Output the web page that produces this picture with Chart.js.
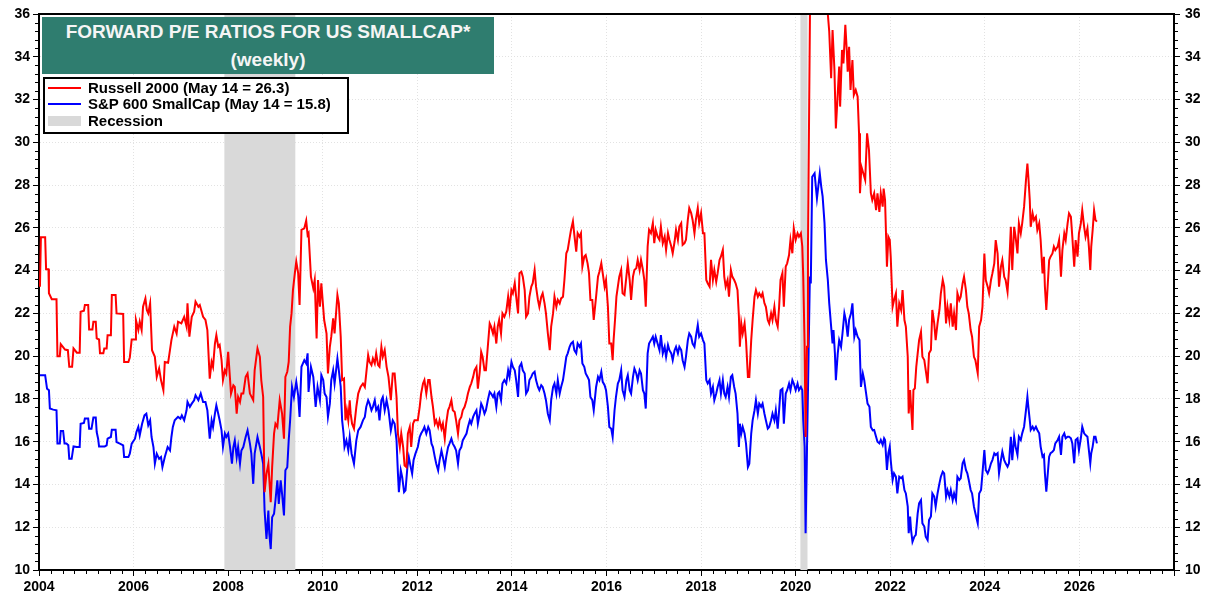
<!DOCTYPE html>
<html><head><meta charset="utf-8">
<script src="https://cdn.jsdelivr.net/npm/chart.js@4.4.1/dist/chart.umd.min.js"></script>
<style>
html,body{margin:0;padding:0;background:#fff;}
#wrap{position:relative;width:1210px;height:596px;overflow:hidden;}
#c{position:absolute;left:0;top:0;}
.title{position:absolute;left:42px;top:17px;width:452px;height:57px;background:#2f7d6f;color:#f5f5f5;font:bold 19px "Liberation Sans",Arial,sans-serif;text-align:center;}
.title div{position:absolute;left:0;right:0;line-height:22px;}
.legend{position:absolute;left:43px;top:77px;width:302px;height:53px;background:#fff;border:2px solid #000;font:bold 15px "Liberation Sans",Arial,sans-serif;color:#000;}
.legend .row{position:absolute;left:0;right:0;height:16px;}
.legend .sw{position:absolute;left:3px;width:33px;}
.legend .tx{position:absolute;left:43px;line-height:16px;white-space:nowrap;}
</style></head>
<body><div id="wrap">
<canvas id="c" width="1210" height="596"></canvas>
<div class="title"><div style="top:4px">FORWARD P/E RATIOS FOR US SMALLCAP*</div><div style="top:32px">(weekly)</div></div>
<div class="legend">
 <div class="row" style="top:1px"><div class="sw" style="top:7px;height:2px;background:#ff0000"></div><div class="tx">Russell 2000 (May 14 = 26.3)</div></div>
 <div class="row" style="top:17px"><div class="sw" style="top:7px;height:2px;background:#0000ff"></div><div class="tx">S&amp;P 600 SmallCap (May 14 = 15.8)</div></div>
 <div class="row" style="top:34px"><div class="sw" style="top:3px;height:10px;background:#d9d9d9"></div><div class="tx">Recession</div></div>
</div>
</div>
<script>
// ---------- Data ----------
const xTickYears = [2004,2006,2008,2010,2012,2014,2016,2018,2020,2022,2024,2026];
const yTickValues = [10,12,14,16,18,20,22,24,26,28,30,32,34,36];
const recessionStarts = [2007.92, 2020.10];
const recessionEnds   = [2009.42, 2020.25];

// Russell 2000 forward P/E
const rutDatesA = [2004.02,2004.04,2004.13,2004.15,2004.20,2004.21,2004.27,2004.37,2004.39,2004.44,
2004.46,2004.55,2004.61,2004.64,2004.70,2004.73,2004.80,2004.86,2004.88,2004.95,
2004.97,2005.04,2005.06,2005.13,2005.15,2005.20,2005.22,2005.27,2005.29,2005.36,
2005.38,2005.43,2005.45,2005.52,2005.54,2005.62,2005.64,2005.78,2005.80,2005.89,
2005.92,2005.96,2006.03,2006.05,2006.10,2006.13,2006.17,2006.20,2006.25,2006.28,
2006.31,2006.35,2006.39,2006.45,2006.49,2006.54,2006.58,2006.63,2006.66,2006.73,
2006.80,2006.86,2006.91,2006.94,2007.01,2007.07,2007.12,2007.14,2007.18,2007.23,
2007.28,2007.31,2007.37,2007.40,2007.47,2007.52,2007.56,2007.61,2007.65,2007.68,
2007.72,2007.75,2007.79,2007.82,2007.86,2007.89,2007.93,2007.96,2008.00,2008.06,
2008.11,2008.14,2008.18,2008.21,2008.25,2008.28,2008.32,2008.37,2008.41,2008.46,
2008.53,2008.56,2008.62,2008.67,2008.70,2008.74,2008.77,2008.81,2008.85,2008.90,
2008.93,2008.97,2009.00,2009.04,2009.09,2009.14,2009.18,2009.21,2009.25,2009.28,
2009.31,2009.34,2009.37,2009.41,2009.44,2009.48,2009.51,2009.55,2009.61,2009.65,
2009.68,2009.70,2009.75,2009.80];
const rutValuesA = [23.25,25.56,25.56,24.06,24.06,22.94,22.66,22.66,20.0,20.0,
20.56,20.31,20.28,19.5,19.5,20.36,20.16,20.16,22.08,22.12,
22.39,22.39,21.25,21.25,21.61,21.61,20.83,20.78,20.13,20.13,
20.36,20.36,20.98,20.98,22.86,22.86,22.0,21.97,19.73,19.73,
19.94,20.78,20.78,21.69,21.22,21.61,21.22,22.31,22.70,22.16,
22.0,22.47,20.28,19.97,19.03,19.42,18.88,18.41,19.73,19.69,
20.75,21.38,21.06,21.61,21.53,21.84,21.38,22.47,20.91,21.84,
22.08,22.55,22.31,22.39,21.84,21.69,21.22,18.95,19.73,19.50,
20.59,20.98,20.44,20.52,19.81,18.88,19.34,19.19,20.20,18.25,
18.64,18.56,17.31,18.09,17.86,18.25,18.25,19.03,19.19,18.25,
17.94,19.34,20.36,19.97,18.88,18.09,13.64,14.5,14.97,13.17,
14.81,16.38,16.84,16.69,17.94,17.31,16.14,19.03,19.27,19.73,
21.38,22.0,23.09,23.88,24.42,23.88,22.39,25.91,25.98,26.34,
25.67,25.75,23.72,23.17];

const rutDatesB = [2009.83,2009.87,2009.90,2009.94,2009.97,2010.03,2010.08,2010.11,2010.15,2010.18,
2010.22,2010.25,2010.31,2010.34,2010.38,2010.41,2010.45,2010.48,2010.51,2010.54,
2010.57,2010.59,2010.62,2010.66,2010.71,2010.75,2010.80,2010.85,2010.89,2010.92,
2010.96,2010.99,2011.03,2011.06,2011.10,2011.13,2011.17,2011.20,2011.24,2011.27,
2011.31,2011.35,2011.39,2011.44,2011.48,2011.52,2011.56,2011.59,2011.63,2011.66,
2011.70,2011.73,2011.77,2011.80,2011.84,2011.87,2011.91,2011.94,2012.01,2012.05,
2012.08,2012.12,2012.15,2012.19,2012.23,2012.26,2012.30,2012.33,2012.37,2012.40,
2012.44,2012.47,2012.51,2012.54,2012.58,2012.61,2012.65,2012.68,2012.72,2012.75,
2012.79,2012.82,2012.86,2012.89,2012.93,2012.96,2013.00,2013.04,2013.07,2013.11,
2013.14,2013.18,2013.21,2013.25,2013.28,2013.32,2013.35,2013.38,2013.42,2013.45,
2013.49,2013.53,2013.56,2013.60,2013.63,2013.67,2013.70,2013.73,2013.77,2013.80,
2013.84,2013.88,2013.92,2013.95,2013.99,2014.02,2014.06,2014.09,2014.13,2014.16,
2014.20,2014.23,2014.27,2014.30,2014.34,2014.37,2014.41,2014.44,2014.48,2014.51,
2014.55,2014.58,2014.62,2014.65,2014.69,2014.72,2014.76,2014.80,2014.83,2014.87,
2014.90,2014.94,2014.97,2015.01,2015.04,2015.08,2015.11,2015.15,2015.18,2015.22,
2015.25,2015.29,2015.32,2015.36,2015.39,2015.43,2015.46,2015.49,2015.53,2015.56,
2015.60,2015.63,2015.66,2015.70,2015.73];
const rutValuesB = [23.56,20.83,23.56,22.31,23.41,21.69,21.06,19.19,20.44,20.91,
21.77,21.06,22.86,22.47,20.91,18.88,18.95,17.0,17.47,17.0,
17.94,17.31,16.84,16.61,17.63,18.25,18.56,18.72,18.56,19.19,
20.05,19.73,19.58,19.89,19.66,20.13,19.58,19.5,20.44,19.97,
20.28,19.5,19.03,17.94,19.19,19.19,18.09,16.38,15.75,16.38,
15.75,14.89,14.81,16.38,16.69,15.75,16.84,17.0,17.0,17.63,
18.25,18.72,18.88,18.25,18.88,18.88,18.09,17.63,16.84,17.0,
16.69,17.0,16.61,16.84,16.14,16.84,17.47,17.63,17.94,17.47,
17.39,17.0,16.38,17.0,17.16,17.47,17.63,17.94,18.25,18.56,
18.72,19.03,19.34,19.5,18.48,19.27,20.2,19.97,19.34,19.34,
20.44,21.53,21.38,21.06,21.38,20.59,21.38,21.69,21.06,22.0,
21.84,22.08,22.78,22.16,23.09,22.94,23.41,22.78,22.0,23.88,
23.95,23.72,23.09,21.84,22.0,22.78,23.25,23.41,24.03,23.25,
22.63,22.31,22.78,22.94,22.47,22.0,21.06,20.28,21.38,22.0,
22.78,22.31,22.63,22.47,22.70,22.78,23.56,24.81,24.97,25.52,
25.91,26.30,25.67,24.89,25.75,25.59,25.75,24.19,24.66,24.73,
24.34,23.88,22.63,22.63,21.69];

const rutDatesC = [2015.78,2015.82,2015.85,2015.89,2015.92,2015.96,2015.99,2016.03,2016.06,2016.10,
2016.13,2016.15,2016.18,2016.21,2016.24,2016.27,2016.31,2016.34,2016.38,2016.42,
2016.45,2016.49,2016.52,2016.56,2016.59,2016.63,2016.66,2016.70,2016.73,2016.77,
2016.80,2016.83,2016.87,2016.90,2016.94,2016.98,2017.01,2017.04,2017.08,2017.12,
2017.15,2017.19,2017.23,2017.26,2017.30,2017.33,2017.37,2017.40,2017.44,2017.47,
2017.51,2017.54,2017.58,2017.61,2017.65,2017.68,2017.72,2017.75,2017.79,2017.82,
2017.86,2017.89,2017.93,2017.96,2018.00,2018.04,2018.07,2018.11,2018.14,2018.18,
2018.21,2018.25,2018.28,2018.32,2018.35,2018.39,2018.42,2018.46,2018.49,2018.52,
2018.56,2018.59,2018.63,2018.66,2018.70,2018.73,2018.77,2018.80,2018.82,2018.85,
2018.88,2018.92,2018.95,2018.99,2019.02,2019.06,2019.09,2019.13,2019.16,2019.20,
2019.23,2019.27,2019.30,2019.34,2019.37,2019.41,2019.44,2019.48,2019.51,2019.55,
2019.58,2019.62,2019.65,2019.68,2019.72,2019.75,2019.79,2019.82,2019.86,2019.89,
2019.93,2019.96,2020.00,2020.04,2020.07,2020.11,2020.14,2020.16,2020.19,2020.21,
2020.24,2020.26,2020.31,2020.40,2020.50,2020.60,2020.66];
const rutValuesC = [22.78,23.72,23.95,24.34,23.88,23.25,23.56,22.31,20.59,20.59,
19.81,20.75,21.69,22.78,23.25,23.72,24.03,22.94,22.86,23.72,
24.34,23.56,22.63,23.72,24.03,24.11,24.5,24.03,24.5,24.03,
23.56,22.31,25.13,25.91,25.75,26.22,25.28,25.91,25.59,25.44,
26.06,25.28,25.59,24.97,25.75,25.44,25.13,24.81,25.36,25.91,
25.44,26.06,26.22,25.2,25.28,25.44,26.38,26.92,26.69,26.38,
25.75,26.38,26.92,26.22,26.69,25.75,25.75,23.56,23.41,23.25,
24.5,23.56,24.03,23.48,23.88,24.5,24.66,24.97,23.72,23.25,
23.56,22.78,24.03,23.72,23.56,23.41,23.09,21.84,20.44,21.53,
21.06,21.53,20.75,19.03,19.03,20.75,21.69,22.78,23.09,22.78,
22.94,22.78,22.94,22.47,22.31,21.69,21.53,22.0,21.69,22.31,
21.69,21.38,22.31,23.56,23.88,22.31,24.19,24.34,24.73,25.44,
24.81,25.98,25.44,25.75,25.59,25.75,25.13,23.72,20.44,16.22,
20.44,25.13,38,42,41,39,37];

const rutDatesD = [2020.68,2020.71,2020.75,2020.78,2020.82,2020.85,2020.89,2020.92,2020.94,2020.98,
2021.01,2021.05,2021.08,2021.10,2021.13,2021.16,2021.20,2021.23,2021.27,2021.31,
2021.34,2021.36,2021.39,2021.43,2021.47,2021.51,2021.55,2021.59,2021.62];
const rutValuesD = [36.0,35.17,33.0,35.25,33.38,30.65,32.29,33.54,31.67,34.32,
33.69,35.49,34.32,33.3,34.47,32.45,33.85,32.21,32.45,32.13,
30.42,27.62,28.86,28.55,28.24,30.42,29.64,27.62,27.30];

const rutDatesE = [2021.66,2021.70,2021.73,2021.77,2021.80,2021.84,2021.86,2021.89,2021.93,2021.96,
2021.99,2022.01,2022.05,2022.08,2022.12,2022.15,2022.19,2022.23,2022.26,2022.30,
2022.33,2022.37,2022.39,2022.42,2022.44,2022.47,2022.49,2022.52,2022.55,2022.58,
2022.61,2022.65,2022.68,2022.72,2022.75,2022.79,2022.82,2022.86,2022.89,2022.93,
2022.96,2023.00,2023.04,2023.07,2023.11,2023.14,2023.18,2023.21,2023.25,2023.28,
2023.32,2023.35,2023.39,2023.42,2023.46,2023.49,2023.53,2023.56,2023.60,2023.63,
2023.66,2023.70,2023.73,2023.77,2023.80,2023.85,2023.88,2023.92,2023.95,2023.99,
2024.02,2024.06,2024.09,2024.13,2024.16,2024.20,2024.23,2024.27,2024.30,2024.34,
2024.37,2024.41,2024.44,2024.48,2024.51,2024.55,2024.58,2024.62,2024.65,2024.69,
2024.72,2024.76,2024.79,2024.83,2024.87,2024.90,2024.92,2024.95,2024.97,2025.01,
2025.04,2025.08,2025.11,2025.15,2025.18,2025.22,2025.25,2025.27,2025.30,2025.32,
2025.36,2025.39,2025.43,2025.46,2025.49,2025.54,2025.57,2025.61,2025.64,2025.68,
2025.71,2025.75,2025.78,2025.82,2025.85,2025.89,2025.92,2025.96,2025.99,2026.03,
2026.06,2026.10,2026.13,2026.17,2026.20,2026.23,2026.25,2026.28,2026.31,2026.34,2026.37];
const rutValuesE = [27.61,26.83,27.61,26.75,27.61,26.99,27.84,27.3,24.18,25.58,
25.43,24.65,22.31,22.62,22.94,21.38,22.47,22.16,23.09,21.69,
21.38,19.97,17.32,18.42,17.64,16.55,18.42,18.49,19.5,20.13,
20.75,21.14,19.97,19.82,19.35,18.73,20.13,20.29,22.16,21.53,
20.75,21.53,22.16,22.94,23.56,23.25,21.53,22.31,21.69,22.47,
21.38,22.0,21.22,22.94,22.62,22.78,23.40,23.71,23.09,22.31,
22.0,21.22,20.91,19.97,19.82,19.2,21.38,21.69,22.31,24.8,
23.56,23.25,22.94,23.56,23.87,24.34,25.43,24.8,23.25,24.18,
24.49,23.71,23.56,23.01,24.03,26.05,24.03,26.05,25.58,24.8,
26.21,25.74,26.21,26.99,28.23,29.01,28.39,27.3,26.05,26.68,
26.36,26.52,25.9,26.21,25.43,23.87,24.65,23.25,22.16,22.94,
24.49,24.65,24.8,25.12,24.96,25.12,25.43,23.71,24.96,25.74,
25.43,26.21,26.68,26.52,25.58,24.18,25.43,24.65,25.74,26.21,
26.83,26.05,25.58,25.97,25.12,24.03,25.12,25.9,26.83,26.36,26.29];

// S&P 600 SmallCap forward P/E
const spDatesA = [2004.02,2004.13,2004.17,2004.21,2004.23,2004.30,2004.37,2004.39,2004.44,2004.46,
2004.51,2004.54,2004.58,2004.62,2004.64,2004.69,2004.73,2004.80,2004.86,2004.88,
2004.95,2004.97,2005.04,2005.06,2005.11,2005.15,2005.20,2005.22,2005.25,2005.27,
2005.39,2005.43,2005.45,2005.52,2005.54,2005.62,2005.64,2005.71,2005.78,2005.80,
2005.89,2005.92,2005.96,2006.03,2006.06,2006.10,2006.13,2006.18,2006.23,2006.27,
2006.31,2006.35,2006.38,2006.42,2006.45,2006.49,2006.54,2006.58,2006.61,2006.66,
2006.72,2006.77,2006.80,2006.83,2006.87,2006.94,2006.99,2007.02,2007.07,2007.12,
2007.14,2007.19,2007.23,2007.28,2007.31,2007.37,2007.42,2007.47,2007.52,2007.56,
2007.61,2007.65,2007.68,2007.72,2007.75,2007.79,2007.82,2007.86,2007.89,2007.93,
2007.96,2008.00,2008.04,2008.08,2008.11,2008.14,2008.18,2008.21,2008.25,2008.28,
2008.32,2008.37,2008.41,2008.46,2008.49,2008.53,2008.56,2008.62,2008.67,2008.70,
2008.74,2008.77,2008.81,2008.85,2008.87,2008.90,2008.93,2008.97,2009.00,2009.04,
2009.07,2009.11,2009.14,2009.18,2009.21,2009.25,2009.28,2009.31,2009.35,2009.39,
2009.44,2009.48,2009.51,2009.55,2009.61,2009.65,2009.68,2009.70,2009.75,2009.80];
const spValuesA = [19.11,19.11,18.48,18.41,17.55,17.5,17.47,15.91,15.91,16.5,
16.5,15.91,15.91,15.83,15.2,15.2,15.78,15.75,15.75,16.84,
16.88,17.08,17.08,16.61,16.61,17.13,17.13,16.45,16.14,15.78,
15.78,15.83,16.14,16.22,16.56,16.56,15.98,15.91,15.83,15.28,
15.28,15.44,15.91,16.14,16.45,16.69,16.30,16.84,17.23,17.31,
16.77,17.0,16.22,15.75,14.97,15.44,15.2,15.28,14.81,15.28,
15.75,15.59,16.22,16.69,17.0,17.16,17.08,17.23,17.0,17.47,
17.86,17.63,17.78,17.94,18.17,17.94,18.25,17.86,17.86,17.47,
16.14,17.0,16.69,17.31,17.70,17.31,17.0,16.53,15.75,16.38,
16.22,16.38,15.75,14.97,15.75,16.06,15.28,15.75,14.97,15.59,
15.75,16.22,16.53,15.91,15.44,14.03,15.44,16.22,15.75,15.44,
14.97,12.78,11.45,12.78,11.69,10.98,12.47,12.63,13.25,14.19,
13.09,14.19,13.56,12.55,14.66,14.81,16.06,17.0,18.56,18.09,
18.80,18.17,17.16,19.5,19.81,19.66,20.13,18.33,19.5,19.03];

const spDatesB = [2009.85,2009.89,2009.94,2009.97,2010.01,2010.04,2010.08,2010.11,2010.15,2010.18,
2010.22,2010.25,2010.31,2010.34,2010.38,2010.41,2010.44,2010.46,2010.50,2010.54,
2010.57,2010.61,2010.66,2010.71,2010.75,2010.80,2010.85,2010.89,2010.92,2010.96,
2010.99,2011.03,2011.06,2011.10,2011.13,2011.17,2011.20,2011.24,2011.27,2011.31,
2011.35,2011.39,2011.44,2011.48,2011.52,2011.56,2011.59,2011.61,2011.65,2011.68,
2011.72,2011.75,2011.79,2011.82,2011.86,2011.89,2011.92,2011.96,2012.01,2012.05,
2012.08,2012.12,2012.15,2012.19,2012.23,2012.26,2012.30,2012.33,2012.37,2012.40,
2012.44,2012.47,2012.51,2012.54,2012.58,2012.61,2012.65,2012.68,2012.72,2012.75,
2012.79,2012.82,2012.86,2012.89,2012.93,2012.96,2013.00,2013.04,2013.07,2013.11,
2013.14,2013.18,2013.21,2013.25,2013.28,2013.32,2013.35,2013.38,2013.42,2013.45,
2013.49,2013.53,2013.56,2013.60,2013.63,2013.67,2013.70,2013.73,2013.77,2013.80,
2013.84,2013.88,2013.92,2013.95,2013.99,2014.02,2014.06,2014.09,2014.13,2014.16,
2014.20,2014.23,2014.27,2014.30,2014.34,2014.37,2014.41,2014.44,2014.48,2014.51,
2014.55,2014.58,2014.62,2014.65,2014.69,2014.72,2014.76,2014.80,2014.83,2014.87,
2014.90,2014.94,2014.97,2015.01,2015.04,2015.08,2015.11,2015.15,2015.18,2015.22,
2015.25,2015.29,2015.32,2015.36,2015.39,2015.43,2015.46,2015.49,2015.53,2015.56,
2015.60,2015.63,2015.66,2015.70,2015.73];
const spValuesB = [17.63,18.56,17.94,19.11,18.88,18.25,18.09,17.16,17.78,18.88,
19.34,18.72,19.89,19.34,18.56,17.0,16.38,15.75,16.06,15.59,
16.22,15.44,14.97,16.06,16.53,16.69,17.0,17.16,17.63,17.94,
17.78,17.47,17.63,17.94,17.47,17.63,17.0,17.94,18.09,17.47,
17.94,17.47,16.53,17.0,16.84,16.06,14.5,13.64,14.66,14.34,
13.64,13.72,14.81,15.28,14.81,14.5,15.13,15.44,15.75,16.22,
16.38,16.53,16.69,16.38,16.69,16.53,15.91,15.75,15.28,14.97,
14.66,15.13,15.59,15.28,14.81,15.28,15.75,15.91,16.14,15.91,
15.75,15.59,14.97,15.59,15.75,16.06,16.22,16.38,16.69,17.0,
16.84,17.16,17.31,17.47,16.84,17.31,17.78,17.63,17.31,17.47,
17.94,18.33,18.25,18.09,18.25,17.63,18.25,18.33,17.94,18.72,
18.88,18.72,19.34,19.03,19.73,19.5,19.34,18.88,18.09,19.5,
19.66,19.34,19.19,18.25,18.41,18.88,19.03,19.19,19.27,18.88,
18.56,18.41,18.64,18.56,18.25,17.94,17.31,17.0,17.94,18.56,
18.72,18.25,18.88,18.25,18.56,18.88,19.34,19.97,20.13,20.44,
20.59,20.67,20.28,20.13,20.59,20.44,20.59,19.66,19.5,19.19,
19.03,18.88,18.09,17.94,17.47];

const spDatesC = [2015.78,2015.82,2015.85,2015.89,2015.92,2015.96,2015.99,2016.03,2016.06,2016.10,
2016.13,2016.17,2016.20,2016.24,2016.27,2016.31,2016.34,2016.38,2016.42,2016.45,
2016.49,2016.52,2016.56,2016.59,2016.63,2016.66,2016.70,2016.73,2016.77,2016.80,
2016.83,2016.87,2016.90,2016.94,2016.98,2017.01,2017.04,2017.08,2017.12,2017.15,
2017.19,2017.23,2017.26,2017.30,2017.33,2017.37,2017.40,2017.44,2017.47,2017.51,
2017.54,2017.58,2017.61,2017.65,2017.68,2017.72,2017.75,2017.79,2017.82,2017.86,
2017.89,2017.93,2017.96,2018.00,2018.04,2018.07,2018.11,2018.14,2018.18,2018.21,
2018.25,2018.28,2018.32,2018.35,2018.39,2018.42,2018.46,2018.49,2018.52,2018.56,
2018.59,2018.63,2018.66,2018.70,2018.73,2018.77,2018.80,2018.82,2018.85,2018.88,
2018.92,2018.95,2018.99,2019.02,2019.06,2019.09,2019.13,2019.16,2019.20,2019.23,
2019.27,2019.30,2019.34,2019.37,2019.41,2019.44,2019.48,2019.51,2019.55,2019.58,
2019.62,2019.65,2019.68,2019.72,2019.75,2019.79,2019.82,2019.86,2019.89,2019.93,
2019.96,2020.00,2020.04,2020.07,2020.11,2020.14,2020.16,2020.19,2020.21,2020.24,
2020.27,2020.30,2020.32,2020.35,2020.40,2020.45,2020.51,2020.54,2020.57,2020.61,
2020.64,2020.68,2020.71,2020.75,2020.78,2020.80,2020.83,2020.85,2020.89,2020.92,
2020.96,2020.99,2021.03,2021.06,2021.10,2021.13,2021.17,2021.20,2021.24,2021.27,
2021.31,2021.35,2021.38,2021.42,2021.45,2021.49,2021.52,2021.56,2021.59,2021.63];
const spValuesC = [18.56,19.03,18.88,19.27,18.80,18.64,18.41,17.63,16.69,16.61,
16.22,17.47,18.09,18.72,18.88,19.34,18.41,18.09,18.88,19.11,
18.41,18.25,19.03,19.42,19.19,18.88,19.34,19.19,18.41,18.25,
17.55,20.13,20.59,20.75,20.91,20.59,20.91,20.59,20.28,20.98,
20.13,20.44,19.97,20.52,20.28,20.13,19.81,20.28,20.44,20.13,
20.44,20.28,19.81,19.5,19.97,20.75,21.06,20.91,20.59,20.44,
20.91,21.45,20.91,21.06,20.75,20.59,18.88,18.72,18.88,18.25,
18.56,17.94,18.25,18.56,18.88,18.25,18.88,18.25,18.09,18.56,
18.09,19.03,19.11,18.56,18.25,17.31,15.75,16.84,16.38,16.69,
16.38,15.91,14.81,14.97,16.38,17.0,17.47,17.94,17.31,17.78,
17.63,17.78,17.31,17.0,16.61,16.69,17.0,17.31,17.0,17.47,
16.61,17.47,18.41,18.48,16.84,18.25,18.41,18.72,18.41,18.88,
18.72,18.41,18.72,18.41,18.56,18.41,17.0,15.75,11.72,15.75,
19.66,23.72,23.4,28.39,28.55,27.38,28.55,27.94,27.47,26.22,
24.5,23.56,22.47,21.38,20.59,21.22,20.13,18.88,20.13,20.75,
20.44,21.06,22.0,21.69,20.91,21.69,22.0,22.47,20.91,21.22,
20.91,20.75,18.56,19.19,18.88,18.25,17.78,17.63,16.69,16.53];

const spDatesD = [2021.66,2021.70,2021.73,2021.77,2021.80,2021.84,2021.87,2021.89,2021.93,2021.96,
2021.99,2022.01,2022.05,2022.08,2022.12,2022.15,2022.19,2022.23,2022.26,2022.30,
2022.33,2022.37,2022.39,2022.42,2022.44,2022.47,2022.51,2022.54,2022.58,2022.61,
2022.65,2022.68,2022.72,2022.75,2022.79,2022.82,2022.86,2022.89,2022.93,2022.96,
2023.00,2023.04,2023.07,2023.11,2023.14,2023.18,2023.21,2023.25,2023.28,2023.32,
2023.35,2023.39,2023.42,2023.46,2023.49,2023.53,2023.56,2023.60,2023.63,2023.66,
2023.70,2023.73,2023.77,2023.80,2023.85,2023.88,2023.92,2023.95,2023.99,2024.02,
2024.06,2024.09,2024.13,2024.16,2024.20,2024.23,2024.27,2024.30,2024.34,2024.37,
2024.41,2024.44,2024.48,2024.51,2024.55,2024.58,2024.62,2024.65,2024.69,2024.72,
2024.76,2024.79,2024.83,2024.87,2024.90,2024.92,2024.95,2024.97,2025.01,2025.04,
2025.08,2025.11,2025.15,2025.18,2025.22,2025.25,2025.27,2025.30,2025.32,2025.36,
2025.39,2025.43,2025.46,2025.49,2025.54,2025.57,2025.61,2025.64,2025.68,2025.71,
2025.75,2025.78,2025.82,2025.85,2025.89,2025.92,2025.96,2025.99,2026.03,2026.06,
2026.10,2026.13,2026.17,2026.20,2026.23,2026.25,2026.28,2026.31,2026.34,2026.37];
const spValuesD = [16.55,16.23,16.0,15.92,16.08,15.85,16.16,16.08,14.68,15.46,
15.77,15.14,14.21,14.52,14.36,13.58,14.36,14.29,14.36,13.74,
13.58,12.96,11.72,12.5,11.87,11.32,11.56,11.64,12.65,13.12,
13.27,12.18,12.03,11.56,11.40,12.34,12.5,13.58,13.43,12.96,
13.58,14.05,14.36,14.60,14.52,13.43,13.74,13.43,13.74,13.27,
13.58,13.27,14.36,14.21,14.29,14.99,15.14,14.68,14.52,14.21,
13.74,13.58,12.96,12.65,12.18,13.58,13.74,14.52,15.61,14.68,
14.52,14.68,14.99,15.14,15.46,15.38,15.46,14.52,15.14,15.53,
15.14,14.99,14.83,14.99,16.23,15.14,16.23,15.77,15.38,16.23,
16.08,16.39,16.70,17.48,18.10,17.63,17.01,16.55,16.70,16.55,
16.70,16.55,16.39,15.77,15.30,15.38,14.52,13.66,14.21,15.30,
15.46,15.53,15.61,15.92,16.08,16.23,15.38,16.23,16.39,16.16,
16.23,16.23,16.16,15.92,14.99,16.08,16.16,15.61,16.16,16.70,
16.39,16.31,16.23,15.61,14.99,15.46,15.77,16.23,16.23,15.92];

const rutDates  = [].concat(rutDatesA, rutDatesB, rutDatesC, rutDatesD, rutDatesE);
const rutValues = [].concat(rutValuesA, rutValuesB, rutValuesC, rutValuesD, rutValuesE);
const spDates   = [].concat(spDatesA, spDatesB, spDatesC, spDatesD);
const spValues  = [].concat(spValuesA, spValuesB, spValuesC, spValuesD);

function toPoints(dates, values){
  const n = Math.min(dates.length, values.length);
  const out = [];
  for (let i=0;i<n;i++) out.push({x:dates[i], y:values[i]});
  return out;
}

const FONT = {family:'"Liberation Sans", Arial, sans-serif', size:14, weight:'bold'};

const framePlugin = {
  id:'frame',
  beforeDatasetsDraw(chart){
    const {ctx, chartArea:a, scales:{x}} = chart;
    ctx.save();
    ctx.fillStyle = '#d9d9d9';
    for (let i=0;i<recessionStarts.length;i++){
      const x1 = x.getPixelForValue(recessionStarts[i]);
      const x2 = x.getPixelForValue(recessionEnds[i]);
      ctx.fillRect(x1, a.top, x2-x1, a.bottom-a.top);
    }
    ctx.restore();
  },
  afterDraw(chart){
    const {ctx, chartArea:a, scales:{x,y}} = chart;
    ctx.save();
    ctx.strokeStyle = '#000';
    ctx.lineWidth = 1;
    ctx.beginPath();
    for (let q = 2004; q <= 2028.001; q += 0.25){
      if (Math.abs(q/2 - Math.round(q/2)) < 1e-6) continue;
      const px = Math.round(x.getPixelForValue(q)) + 0.5;
      ctx.moveTo(px, a.bottom); ctx.lineTo(px, a.bottom + 4);
    }
    for (let k = 0; k <= 65; k++){
      const v = 10 + k*0.4;
      if (Math.abs(v/2 - Math.round(v/2)) < 1e-6) continue;
      const py = Math.round(y.getPixelForValue(v)) + 0.5;
      ctx.moveTo(a.left - 4, py); ctx.lineTo(a.left, py);
      ctx.moveTo(a.right, py); ctx.lineTo(a.right + 4, py);
    }
    ctx.stroke();
    ctx.lineWidth = 2;
    ctx.beginPath();
    ctx.moveTo(a.left - 1, a.top); ctx.lineTo(a.right + 1, a.top);
    ctx.stroke();
    ctx.restore();
  }
};

new Chart(document.getElementById('c'), {
  type:'line',
  data:{
    datasets:[
      {label:'Russell 2000 (May 14 = 26.3)', data:toPoints(rutDates, rutValues), borderColor:'#ff0000', borderWidth:2, pointRadius:0, tension:0},
      {label:'S&P 600 SmallCap (May 14 = 15.8)', data:toPoints(spDates, spValues), borderColor:'#0000ff', borderWidth:2, pointRadius:0, tension:0}
    ]
  },
  options:{
    responsive:false,
    animation:false,
    devicePixelRatio:1,
    layout:{padding:{top:14, left:0, right:0, bottom:0}},
    plugins:{legend:{display:false}, tooltip:{enabled:false}, title:{display:false}},
    scales:{
      x:{
        type:'linear', min:2004, max:2028,
        afterBuildTicks(s){ s.ticks = xTickYears.concat([2028]).map(v=>({value:v})); },
        afterFit(s){ s.height = 26; },
        ticks:{font:FONT, color:'#000', padding:3, maxRotation:0, autoSkip:false,
               callback:(v)=> xTickYears.includes(v) ? String(v) : ''},
        grid:{color:'#e2e2e2', lineWidth:1, tickColor:'#000', tickLength:6, tickWidth:1},
        border:{display:true, color:'#000', width:2, dash:[1,2]}
      },
      y:{
        type:'linear', position:'left', min:10, max:36,
        afterBuildTicks(s){ s.ticks = yTickValues.map(v=>({value:v})); },
        afterFit(s){ s.width = 39; },
        ticks:{font:FONT, color:'#000', padding:3, autoSkip:false},
        grid:{color:'#e2e2e2', lineWidth:1, tickColor:'#000', tickLength:6, tickWidth:1},
        border:{display:true, color:'#000', width:2, dash:[1,2]}
      },
      y2:{
        type:'linear', position:'right', min:10, max:36,
        afterBuildTicks(s){ s.ticks = yTickValues.map(v=>({value:v})); },
        afterFit(s){ s.width = 36; },
        ticks:{font:FONT, color:'#000', padding:5, autoSkip:false},
        grid:{drawOnChartArea:false, tickColor:'#000', tickLength:6, tickWidth:1},
        border:{display:true, color:'#000', width:2}
      }
    }
  },
  plugins:[framePlugin]
});
</script>
</body></html>
